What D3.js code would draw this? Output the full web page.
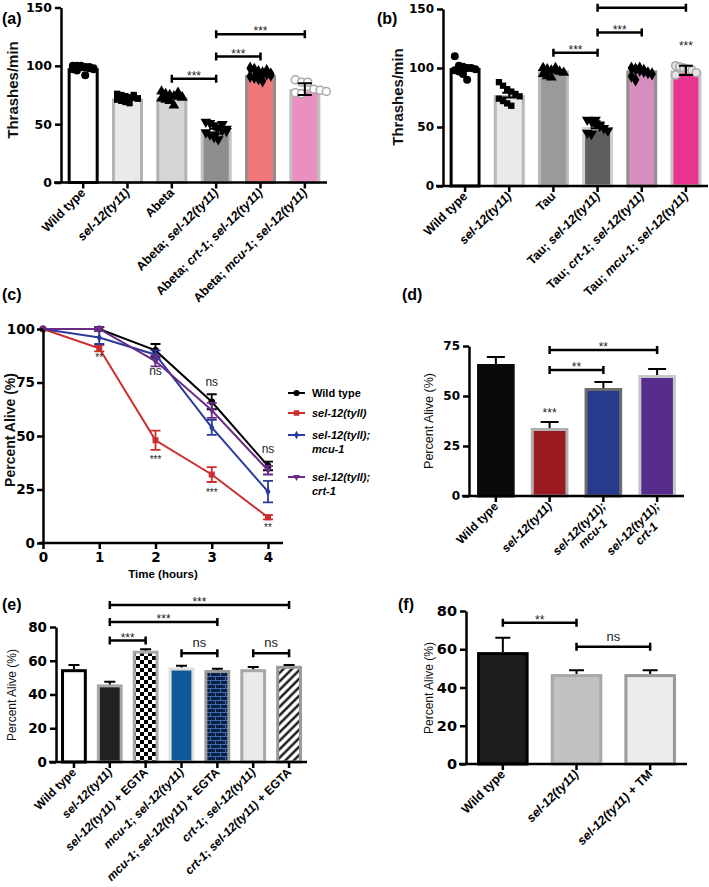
<!DOCTYPE html>
<html>
<head>
<meta charset="utf-8">
<script src="https://cdn.jsdelivr.net/npm/d3@7"></script>
<style>
body { margin: 0; background: #fff; }
svg { font-family: "Liberation Sans", Arial, Helvetica, sans-serif; }
</style>
</head>
<body>
<script>
const svgWidth = 709;
const svgHeight = 887;

// (a) Abeta thrashing assay
const aGroups = ["Wild type", "sel-12(ty11)", "Abeta", "Abeta; sel-12(ty11)", "Abeta; crt-1; sel-12(ty11)", "Abeta; mcu-1; sel-12(ty11)"];
const aMeans = [98, 72, 73, 44, 92, 80];
const aErr = [1, 1, 1, 2, 1, 5];
const aPoints = [
    [100, 100, 99, 99, 98, 98, 97, 96, 100, 92, 99, 97],
    [76, 75, 74, 73, 73, 72, 71, 70, 69, 68, 75, 72],
    [78, 76, 75, 74, 74, 73, 72, 71, 70, 66, 77, 73],
    [52, 51, 49, 47, 45, 44, 43, 41, 39, 37, 50, 46],
    [98, 97, 95, 94, 93, 92, 91, 90, 89, 87, 96, 93],
    [88, 86, 86, 80, 79, 78, 77, 76]
];
const aBrackets = [[2, 3, 89, "***"], [3, 4, 108, "***"], [3, 5, 127, "***"]];

// (b) Tau thrashing assay
const bGroups = ["Wild type", "sel-12(ty11)", "Tau", "Tau; sel-12(ty11)", "Tau; crt-1; sel-12(ty11)", "Tau; mcu-1; sel-12(ty11)"];
const bMeans = [100, 77, 98, 50, 98, 98];
const bErr = [2, 2, 1, 1, 1, 4];
const bPoints = [
    [110, 102, 101, 100, 100, 99, 98, 97, 95, 90],
    [88, 85, 82, 80, 78, 76, 74, 72, 70, 68],
    [100, 99, 98, 98, 97, 96, 95, 93, 92, 100],
    [56, 55, 53, 51, 49, 47, 45, 44, 56, 52],
    [100, 99, 98, 97, 96, 95, 93, 90, 100, 98],
    [102, 101, 100, 99, 98, 96, 94]
];
const bBrackets = [[2, 3, 113, "***"], [3, 4, 130, "***"], [3, 5, 151, ""]];
const bStars = [[5, 115, "***"]];

// (c) survival time course
const cHours = [0, 1, 2, 3, 4];
const cWild = [100, 100, 90, 66, 36];
const cWildErr = [0, 0.8, 3, 3.5, 2];
const cSel = [100, 91, 48, 32, 12];
const cSelErr = [0, 1.5, 4.5, 3.5, 1];
const cMcu = [100, 96, 88, 54, 24];
const cMcuErr = [0, 3, 2, 3.5, 5];
const cCrt = [100, 100, 85, 62, 34];
const cCrtErr = [0, 1, 2.5, 3.5, 2];
const cLegend = ["Wild type", "sel-12(tyll)", "sel-12(tyll);\nmcu-1", "sel-12(tyll);\ncrt-1"];
const cNotes = [[1, 85, "**"], [2, 78.5, "ns"], [2, 37.5, "***"], [3, 73.5, "ns"], [3, 22, "***"], [4, 42, "ns"], [4, 5.6, "**"]];

// (d) percent alive
const dGroups = ["Wild type", "sel-12(ty11)", "sel-12(ty11);\nmcu-1", "sel-12(ty11);\ncrt-1"];
const dMeans = [66, 34, 54, 60.5];
const dErr = [3.5, 3, 3, 3];
const dBrackets = [[1, 2, 63, "**"], [1, 3, 73, "**"]];
const dStars = [[1, 39.5, "***"]];

// (e) EGTA
const eGroups = ["Wild type", "sel-12(ty11)", "sel-12(ty11) + EGTA", "mcu-1; sel-12(ty11)", "mcu-1; sel-12(ty11) + EGTA", "crt-1; sel-12(ty11)", "crt-1; sel-12(ty11) + EGTA"];
const eMeans = [55, 46, 66, 56, 54.5, 55, 57];
const eErr = [2.5, 1.5, 0.8, 1, 0.8, 1.3, 0.5];
const eBrackets = [[1, 2, 72, "***"], [1, 4, 83, "***"], [1, 6, 93, "***"], [3, 4, 64.5, "ns"], [5, 6, 64.5, "ns"]];

// (f) TM
const fGroups = ["Wild type", "sel-12(ty11)", "sel-12(ty11) + TM"];
const fMeans = [58.5, 47, 47];
const fErr = [7.5, 2, 2];
const fBrackets = [[0, 1, 73.8, "**"], [1, 2, 61.3, "ns"]];

const svg = d3
    .select("body")
    .append("svg")
    .attr("width", svgWidth)
    .attr("height", svgHeight);

// fill patterns for panel (e)
const defs = svg.append("defs");
const checker = defs.append("pattern").attr("id", "checker").attr("patternUnits", "userSpaceOnUse").attr("width", 8).attr("height", 8);
checker.append("rect").attr("width", 8).attr("height", 8).attr("fill", "#fff");
checker.append("rect").attr("width", 4).attr("height", 4).attr("fill", "#000");
checker.append("rect").attr("x", 4).attr("y", 4).attr("width", 4).attr("height", 4).attr("fill", "#000");

const brick = defs.append("pattern").attr("id", "brick").attr("patternUnits", "userSpaceOnUse").attr("width", 10).attr("height", 8);
brick.append("rect").attr("width", 10).attr("height", 8).attr("fill", "#0b1e48");
brick.append("path").attr("d", "M0,0.5H10M0,4.5H10M0.5,0V4.5M5.5,4.5V8").attr("stroke", "#3f6db0").attr("stroke-width", 1).attr("fill", "none");

const hatch = defs.append("pattern").attr("id", "hatch").attr("patternUnits", "userSpaceOnUse").attr("width", 6).attr("height", 6).attr("patternTransform", "rotate(45)");
hatch.append("rect").attr("width", 6).attr("height", 6).attr("fill", "#fff");
hatch.append("line").attr("x1", 1.5).attr("x2", 1.5).attr("y1", 0).attr("y2", 6).attr("stroke", "#000").attr("stroke-width", 2.2);

const italicRe = /(sel-12\([^)]*\);?|crt-1|mcu-1)/;

const richText = (sel, str) => {
    str.split(italicRe).filter(p => p).forEach(p => {
        sel.append("tspan")
            .style("font-style", italicRe.test(p) ? "italic" : "normal")
            .text(p);
    });
};

const tag = (x, y, t) => {
    svg.append("text").attr("x", x).attr("y", y)
        .attr("font-size", 16).attr("font-weight", "bold").attr("fill", "#000").text(t);
};

const yTitle = (x, yMid, t, size, weight) => {
    svg.append("text")
        .attr("transform", `translate(${x},${yMid}) rotate(-90)`)
        .attr("text-anchor", "middle")
        .attr("font-size", size)
        .attr("font-weight", weight)
        .attr("fill", "#111")
        .text(t);
};

// tick numbers in the figure are wide, DejaVu matches them better
const styleAxis = (g, fs) => {
    g.select(".domain").attr("stroke-width", 2.5);
    g.selectAll(".tick line").attr("stroke-width", 2.5);
    g.selectAll(".tick text")
        .attr("font-size", fs)
        .attr("font-weight", "bold")
        .attr("font-family", "'DejaVu Sans', sans-serif")
        .attr("fill", "#000");
    g.attr("font-family", null);
};

const symbolFor = name => ({
    circle: d3.symbolCircle, square: d3.symbolSquare, triangle: d3.symbolTriangle,
    down: d3.symbolTriangle, diamond: d3.symbolDiamond, open: d3.symbolCircle
})[name];

const barPanel = o => {
    const n = o.groups.length;
    const y = d3.scaleLinear().domain([0, o.ymax]).range([o.y0, o.y1]);
    const x = d3.scalePoint().domain(d3.range(n)).range([o.x0, o.x1]).padding(0.5);
    const bw = x.step() * o.barFrac;
    const g = svg.append("g");

    // bars
    g.selectAll("rect.bar")
        .data(o.means)
        .enter()
        .append("rect")
        .attr("x", (d, i) => x(i) - bw / 2 + o.sw / 2)
        .attr("y", d => y(d) + o.sw / 2)
        .attr("width", bw - o.sw)
        .attr("height", d => y(0) - y(d) - o.sw / 2)
        .attr("fill", (d, i) => o.fills[i])
        .attr("stroke", (d, i) => o.strokes[i])
        .attr("stroke-width", o.sw);

    // individual points
    if (o.points) {
        o.points.forEach((vals, i) => {
            const spread = o.spread ? o.spread[i] : 1;
            const shift = o.shift ? o.shift[i] : 0;
            const cols = Math.min(6, vals.length);
            g.selectAll(null)
                .data(vals)
                .enter()
                .append("path")
                .attr("d", d3.symbol().type(symbolFor(o.markers[i])).size(o.markers[i] === "square" ? 40 : 50))
                .attr("transform", (v, k) => {
                    const off = ((k % cols) - (cols - 1) / 2) * (bw * 0.8 / cols) * spread + shift;
                    return `translate(${x(i) + off},${y(v)})${o.markers[i] === "down" ? " rotate(180)" : ""}`;
                })
                .attr("fill", o.markers[i] === "open" ? o.openFill[i] : "#000")
                .attr("stroke", o.markers[i] === "open" ? "#a8a8a8" : "none")
                .attr("stroke-width", 1.5);
        });
    }

    // error bars
    o.means.forEach((m, i) => {
        const lo = o.errBoth ? m - o.err[i] : m;
        const hi = m + o.err[i];
        const cw = o.capW;
        g.append("path")
            .attr("d", `M${x(i)},${y(lo)}V${y(hi)}M${x(i) - cw / 2},${y(hi)}H${x(i) + cw / 2}` +
                (o.errBoth ? `M${x(i) - cw / 2},${y(lo)}H${x(i) + cw / 2}` : ""))
            .attr("stroke", "#000")
            .attr("stroke-width", 2)
            .attr("fill", "none");
    });

    // axes
    const ya = g.append("g")
        .attr("transform", `translate(${o.x0},0)`)
        .call(d3.axisLeft(y).tickValues(o.ticks).tickSize(6).tickSizeOuter(0).tickPadding(3));
    styleAxis(ya, o.tickFs);
    g.append("line")
        .attr("x1", o.x0 - 7).attr("x2", o.x1)
        .attr("y1", o.y0).attr("y2", o.y0)
        .attr("stroke", "#000").attr("stroke-width", 2.5);
    g.selectAll("line.xt")
        .data(d3.range(n))
        .enter()
        .append("line")
        .attr("x1", i => x(i)).attr("x2", i => x(i))
        .attr("y1", o.y0).attr("y2", o.y0 + 6)
        .attr("stroke", "#000").attr("stroke-width", 2.5);

    // rotated category labels
    o.groups.forEach((label, i) => {
        const lines = label.split("\n");
        const t = g.append("text")
            .attr("transform", `translate(${x(i) + 3},${o.y0 + 11}) rotate(-45)`)
            .attr("text-anchor", "end")
            .attr("font-size", o.labelFs)
            .attr("font-weight", "bold")
            .attr("fill", "#000");
        richText(t, lines[0]);
        if (lines[1]) {
            const w = t.node().getComputedTextLength();
            const t2 = g.append("text")
                .attr("transform", `translate(${x(i) + 3},${o.y0 + 11}) rotate(-45)`)
                .attr("x", -w / 2 + 6)
                .attr("y", o.labelFs * 1.1)
                .attr("text-anchor", "middle")
                .attr("font-size", o.labelFs)
                .attr("font-weight", "bold")
                .attr("fill", "#000");
            richText(t2, lines[1]);
        }
    });

    // significance brackets
    (o.brackets || []).forEach(([a, b, v, lab]) => {
        const yy = y(v);
        g.append("path")
            .attr("d", `M${x(a)},${yy - 4}V${yy + 4}M${x(a)},${yy}H${x(b)}M${x(b)},${yy - 4}V${yy + 4}`)
            .attr("stroke", "#000").attr("stroke-width", 2.5).attr("fill", "none");
        g.append("text")
            .attr("x", (x(a) + x(b)) / 2)
            .attr("y", lab === "ns" ? yy - 6 : yy + 1)
            .attr("text-anchor", "middle")
            .attr("font-size", lab === "ns" ? 13 : 12)
            .attr("fill", "#222")
            .text(lab);
    });
    (o.stars || []).forEach(([i, v, lab]) => {
        g.append("text")
            .attr("x", x(i)).attr("y", y(v))
            .attr("text-anchor", "middle")
            .attr("font-size", 12).attr("fill", "#222")
            .text(lab);
    });
};

// ---- (a)
barPanel({
    groups: aGroups, means: aMeans, err: aErr, points: aPoints, brackets: aBrackets,
    x0: 61, x1: 327, y0: 182.5, y1: 7.5, ymax: 150, ticks: [0, 50, 100, 150],
    barFrac: 0.7, sw: 3, capW: 14, errBoth: true, tickFs: 12.5, labelFs: 12.5,
    fills: ["#ffffff", "#e9eaec", "#d4d5d5", "#8e8e8e", "#f07878", "#ea90c0"],
    strokes: ["#000", "#b4b4b4", "#b4b4b4", "#c4c4c4", "#8f8f8f", "#c0c0c0"],
    markers: ["circle", "square", "triangle", "down", "diamond", "open"],
    openFill: [0, 0, 0, 0, 0, "#fff"],
    spread: [1, 1, 1, 1, 1, 1.5], shift: [0, 0, 0, 0, 0, 6]
});
tag(2, 24, "(a)");
yTitle(18, 90, "Thrashes/min", 15, "bold");

// ---- (b)
barPanel({
    groups: bGroups, means: bMeans, err: bErr, points: bPoints, brackets: bBrackets, stars: bStars,
    x0: 443, x1: 708, y0: 186, y1: 9, ymax: 150, ticks: [0, 50, 100, 150],
    barFrac: 0.7, sw: 3, capW: 14, errBoth: true, tickFs: 12, labelFs: 12.5,
    fills: ["#ffffff", "#e8e9eb", "#9a9a9a", "#5e5e5e", "#d88dbf", "#e8348f"],
    strokes: ["#000", "#b8b8b8", "#b8b8b8", "#d0d0d0", "#8f8f8f", "#c4c4c4"],
    markers: ["circle", "square", "triangle", "down", "diamond", "open"],
    openFill: [0, 0, 0, 0, 0, "#e4e4e4"]
});
tag(377, 24, "(b)");
yTitle(403, 97, "Thrashes/min", 15, "bold");

// ---- (c)
const cx = d3.scaleLinear().domain([0, 4]).range([43, 268]);
const cy = d3.scaleLinear().domain([0, 100]).range([543, 329]);
const cSeries = [
    { vals: cWild, err: cWildErr, color: "#000", marker: "circle" },
    { vals: cSel, err: cSelErr, color: "#cc2e2e", marker: "square" },
    { vals: cMcu, err: cMcuErr, color: "#2b3b9b", marker: "diamond" },
    { vals: cCrt, err: cCrtErr, color: "#6a2b89", marker: "down" }
];
const cg = svg.append("g");
const lineGen = d3.line().x((d, i) => cx(cHours[i])).y(d => cy(d));
cSeries.forEach(s => {
    cg.append("path").attr("d", lineGen(s.vals)).attr("fill", "none")
        .attr("stroke", s.color).attr("stroke-width", 2);
    s.vals.forEach((v, i) => {
        if (s.err[i] > 0) {
            const px = cx(cHours[i]);
            cg.append("path")
                .attr("d", `M${px},${cy(v - s.err[i])}V${cy(v + s.err[i])}M${px - 5},${cy(v - s.err[i])}H${px + 5}M${px - 5},${cy(v + s.err[i])}H${px + 5}`)
                .attr("stroke", s.color).attr("stroke-width", 1.8).attr("fill", "none");
        }
    });
    cg.selectAll(null)
        .data(s.vals)
        .enter()
        .append("path")
        .attr("d", d3.symbol().type(symbolFor(s.marker)).size(s.marker === "circle" || s.marker === "square" ? 36 : 22))
        .attr("transform", (v, i) => `translate(${cx(cHours[i])},${cy(v)})${s.marker === "down" ? " rotate(180)" : ""}`)
        .attr("fill", s.color);
});
const cxa = cg.append("g").attr("transform", "translate(0,543)")
    .call(d3.axisBottom(cx).tickValues(cHours).tickSize(6).tickSizeOuter(0).tickFormat(d3.format("d")));
styleAxis(cxa, 13.5);
cxa.select(".domain").remove();
cg.append("line").attr("x1", 39).attr("x2", 283).attr("y1", 543).attr("y2", 543)
    .attr("stroke", "#000").attr("stroke-width", 2.5);
const cya = cg.append("g").attr("transform", "translate(43,0)")
    .call(d3.axisLeft(cy).tickValues([0, 25, 50, 75, 100]).tickSize(6).tickSizeOuter(0).tickPadding(2));
styleAxis(cya, 13.5);
cg.append("text").attr("x", 163).attr("y", 578).attr("text-anchor", "middle")
    .attr("font-size", 11.5).attr("font-weight", "bold").attr("fill", "#000").text("Time (hours)");
cNotes.forEach(([h, v, lab]) => {
    cg.append("text").attr("x", cx(h)).attr("y", cy(v)).attr("text-anchor", "middle")
        .attr("font-size", lab === "ns" ? 12 : 10).attr("fill", "#222").text(lab);
});
// legend
const legendY = [393, 413, 435, 477];
cLegend.forEach((lab, i) => {
    const s = cSeries[i];
    const ly = legendY[i];
    cg.append("line").attr("x1", 288).attr("x2", 305).attr("y1", ly).attr("y2", ly)
        .attr("stroke", s.color).attr("stroke-width", 2);
    cg.append("path")
        .attr("d", d3.symbol().type(symbolFor(s.marker)).size(s.marker === "circle" || s.marker === "square" ? 30 : 20))
        .attr("transform", `translate(296.5,${ly})${s.marker === "down" ? " rotate(180)" : ""}`)
        .attr("fill", s.color);
    lab.split("\n").forEach((line, k) => {
        const t = cg.append("text").attr("x", 312).attr("y", ly + 4 + k * 14)
            .attr("font-size", 11).attr("font-weight", "bold").attr("fill", "#000");
        richText(t, line);
    });
});
tag(2, 300, "(c)");
yTitle(15, 430, "Percent Alive (%)", 14, "bold");

// ---- (d)
barPanel({
    groups: dGroups, means: dMeans, err: dErr, brackets: dBrackets, stars: dStars,
    x0: 469, x1: 684, y0: 496, y1: 346, ymax: 75, ticks: [0, 25, 50, 75],
    barFrac: 0.7, sw: 3, capW: 18, errBoth: false, tickFs: 12, labelFs: 12,
    fills: ["#0a0a0a", "#9a1a1f", "#283a8e", "#582c8c"],
    strokes: ["#0a0a0a", "#b0b0b0", "#6c6c6c", "#c8c8c8"]
});
tag(402, 300, "(d)");
yTitle(433, 421, "Percent Alive (%)", 12.5, "normal");

// ---- (e)
barPanel({
    groups: eGroups, means: eMeans, err: eErr, brackets: eBrackets,
    x0: 56, x1: 307, y0: 762, y1: 627, ymax: 80, ticks: [0, 20, 40, 60, 80],
    barFrac: 0.72, sw: 3, capW: 11, errBoth: false, tickFs: 13.5, labelFs: 12,
    fills: ["#ffffff", "#222222", "url(#checker)", "#0f5b9a", "url(#brick)", "#e9eaec", "url(#hatch)"],
    strokes: ["#000", "#a8a8a8", "#a8a8a8", "#e0e0e0", "#999", "#a8a8a8", "#999"]
});
tag(2, 610, "(e)");
yTitle(16, 695, "Percent Alive (%)", 12, "normal");

// ---- (f)
barPanel({
    groups: fGroups, means: fMeans, err: fErr, brackets: fBrackets,
    x0: 466, x1: 687, y0: 764, y1: 611, ymax: 80, ticks: [0, 20, 40, 60, 80],
    barFrac: 0.7, sw: 3, capW: 15, errBoth: false, tickFs: 14.5, labelFs: 12.5,
    fills: ["#1d1d1d", "#c1c1c1", "#ececee"],
    strokes: ["#000", "#a8a8a8", "#999"]
});
tag(398, 610, "(f)");
yTitle(433, 688, "Percent Alive (%)", 12, "normal");
</script>
</body>
</html>
